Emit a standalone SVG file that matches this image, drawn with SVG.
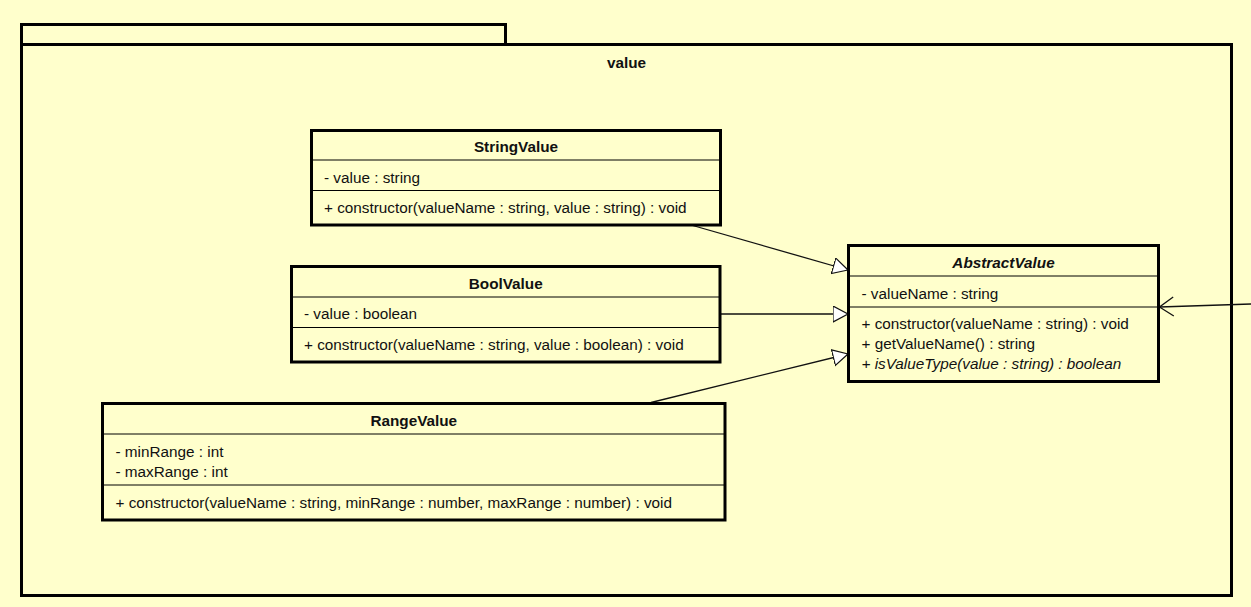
<svg xmlns="http://www.w3.org/2000/svg" width="1251" height="607" viewBox="0 0 1251 607">
  <style>
    .bg { fill: #ffffcc; }
    .pkg { fill: #ffffcc; stroke: #000; stroke-width: 3; }
    .box { fill: #ffffcc; stroke: #000; stroke-width: 3; }
    .sep { stroke: #000; stroke-width: 1; }
    .t { font-family: "Liberation Sans", Arial, sans-serif; font-size: 15.3px; fill: #111; }
    .title { font-weight: bold; text-anchor: middle; }
    .it { font-style: italic; }
    .conn { stroke: #111; stroke-width: 1.3; fill: none; }
  </style>
  <defs>
    <marker id="gen" markerUnits="userSpaceOnUse" markerWidth="18" markerHeight="20" refX="15.5" refY="8.5" orient="auto">
      <path d="M0.5,0.5 L15.5,8.5 L0.5,16.5 Z" fill="#ffffff" stroke="#111" stroke-width="1.2"/>
    </marker>
    <marker id="open" markerUnits="userSpaceOnUse" markerWidth="18" markerHeight="22" refX="15" refY="10.5" orient="auto">
      <path d="M1,1 L15,10.5 L1,20" fill="none" stroke="#111" stroke-width="1.3"/>
    </marker>
  </defs>
  <rect class="bg" x="0" y="0" width="1251" height="607"/>

  <g id="package-value">
    <rect class="pkg" x="21.5" y="24.5" width="484" height="20"/>
    <rect class="pkg" x="21.5" y="44.5" width="1210" height="551"/>
    <text class="t title" x="626.5" y="67.5">value</text>
  </g>

  <g id="connectors">
    <line class="conn" x1="691" y1="225" x2="848" y2="270" marker-end="url(#gen)"/>
    <line class="conn" x1="720" y1="314" x2="848" y2="314" marker-end="url(#gen)"/>
    <line class="conn" x1="651" y1="402.5" x2="848" y2="354" marker-end="url(#gen)"/>
    <line class="conn" x1="1251" y1="304" x2="1159.5" y2="307" marker-end="url(#open)"/>
  </g>

  <g id="StringValue">
    <rect class="box" x="311.5" y="130.5" width="409" height="94.5"/>
    <line class="sep" x1="311.5" y1="160" x2="720.5" y2="160"/>
    <line class="sep" x1="311.5" y1="190.5" x2="720.5" y2="190.5"/>
    <text class="t title" x="516" y="152">StringValue</text>
    <text class="t" x="324" y="182.5">- value : string</text>
    <text class="t" x="324" y="213">+ constructor(valueName : string, value : string) : void</text>
  </g>

  <g id="BoolValue">
    <rect class="box" x="291.5" y="266.5" width="428.5" height="95.5"/>
    <line class="sep" x1="291.5" y1="297" x2="720" y2="297"/>
    <line class="sep" x1="291.5" y1="327.5" x2="720" y2="327.5"/>
    <text class="t title" x="505.75" y="288.5">BoolValue</text>
    <text class="t" x="304" y="319">- value : boolean</text>
    <text class="t" x="304" y="349.5">+ constructor(valueName : string, value : boolean) : void</text>
  </g>

  <g id="RangeValue">
    <rect class="box" x="102.5" y="403.5" width="622.5" height="116.5"/>
    <line class="sep" x1="102.5" y1="434" x2="725" y2="434"/>
    <line class="sep" x1="102.5" y1="485" x2="725" y2="485"/>
    <text class="t title" x="413.75" y="425.5">RangeValue</text>
    <text class="t" x="115.5" y="456.5">- minRange : int</text>
    <text class="t" x="115.5" y="476.5">- maxRange : int</text>
    <text class="t" x="115.5" y="507.5">+ constructor(valueName : string, minRange : number, maxRange : number) : void</text>
  </g>

  <g id="AbstractValue">
    <rect class="box" x="848.5" y="245.5" width="310" height="136"/>
    <line class="sep" x1="848.5" y1="276" x2="1158.5" y2="276"/>
    <line class="sep" x1="848.5" y1="307" x2="1158.5" y2="307"/>
    <text class="t title it" x="1003.5" y="267.5">AbstractValue</text>
    <text class="t" x="861.5" y="298.5">- valueName : string</text>
    <text class="t" x="861.5" y="329">+ constructor(valueName : string) : void</text>
    <text class="t" x="861.5" y="349">+ getValueName() : string</text>
    <text class="t it" x="861.5" y="369">+ isValueType(value : string) : boolean</text>
  </g>
</svg>
